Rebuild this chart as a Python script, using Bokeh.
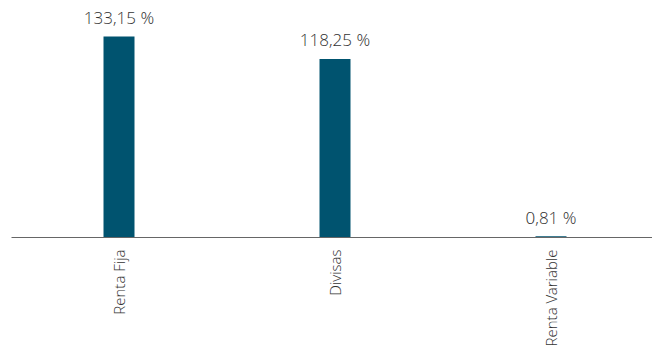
import math
from bokeh.plotting import figure
from bokeh.models import ColumnDataSource, Range1d, FixedTicker
from bokeh.core.properties import value
from bokeh.embed import file_html
from bokeh.resources import INLINE

categories = ["Renta Fija", "Divisas", "Renta Variable"]
values = [133.15, 118.25, 0.81]
labels = ["133,15 %", "118,25 %", "0,81 %"]

xs = list(range(len(categories)))
src = ColumnDataSource(dict(x=xs, top=values, label=labels))

p = figure(width=652, height=358, output_backend="svg", toolbar_location=None,
           x_range=Range1d(-0.4977, 2.4699), y_range=Range1d(0, 157.0),
           min_border_left=11, min_border_right=0, min_border_top=0, min_border_bottom=121)
p.outline_line_color = None
p.xgrid.visible = False
p.ygrid.visible = False
p.yaxis.visible = False
p.background_fill_color = "white"
p.border_fill_color = "white"

p.vbar(x="x", top="top", bottom=0, width=0.1435, source=src,
       fill_color="#00536f", line_color=None)
p.text(x="x", y="top", text="label", source=src, text_align="center",
       text_baseline="alphabetic", y_offset=-19, text_font=value("Open Sans Light"),
       text_font_size="17px", text_color="#333333")

ax = p.xaxis[0]
ax.ticker = FixedTicker(ticks=xs)
ax.major_label_overrides = {i: c for i, c in zip(xs, categories)}
ax.major_label_orientation = math.pi / 2
ax.major_tick_line_color = None
ax.minor_tick_line_color = None
ax.major_label_standoff = 6
ax.axis_line_color = "#666666"
ax.axis_line_width = 1
ax.major_label_text_font = "Open Sans Light"
ax.major_label_text_font_size = "15px"
ax.major_label_text_color = "#333333"

open("out.html", "w").write(file_html(p, INLINE))
